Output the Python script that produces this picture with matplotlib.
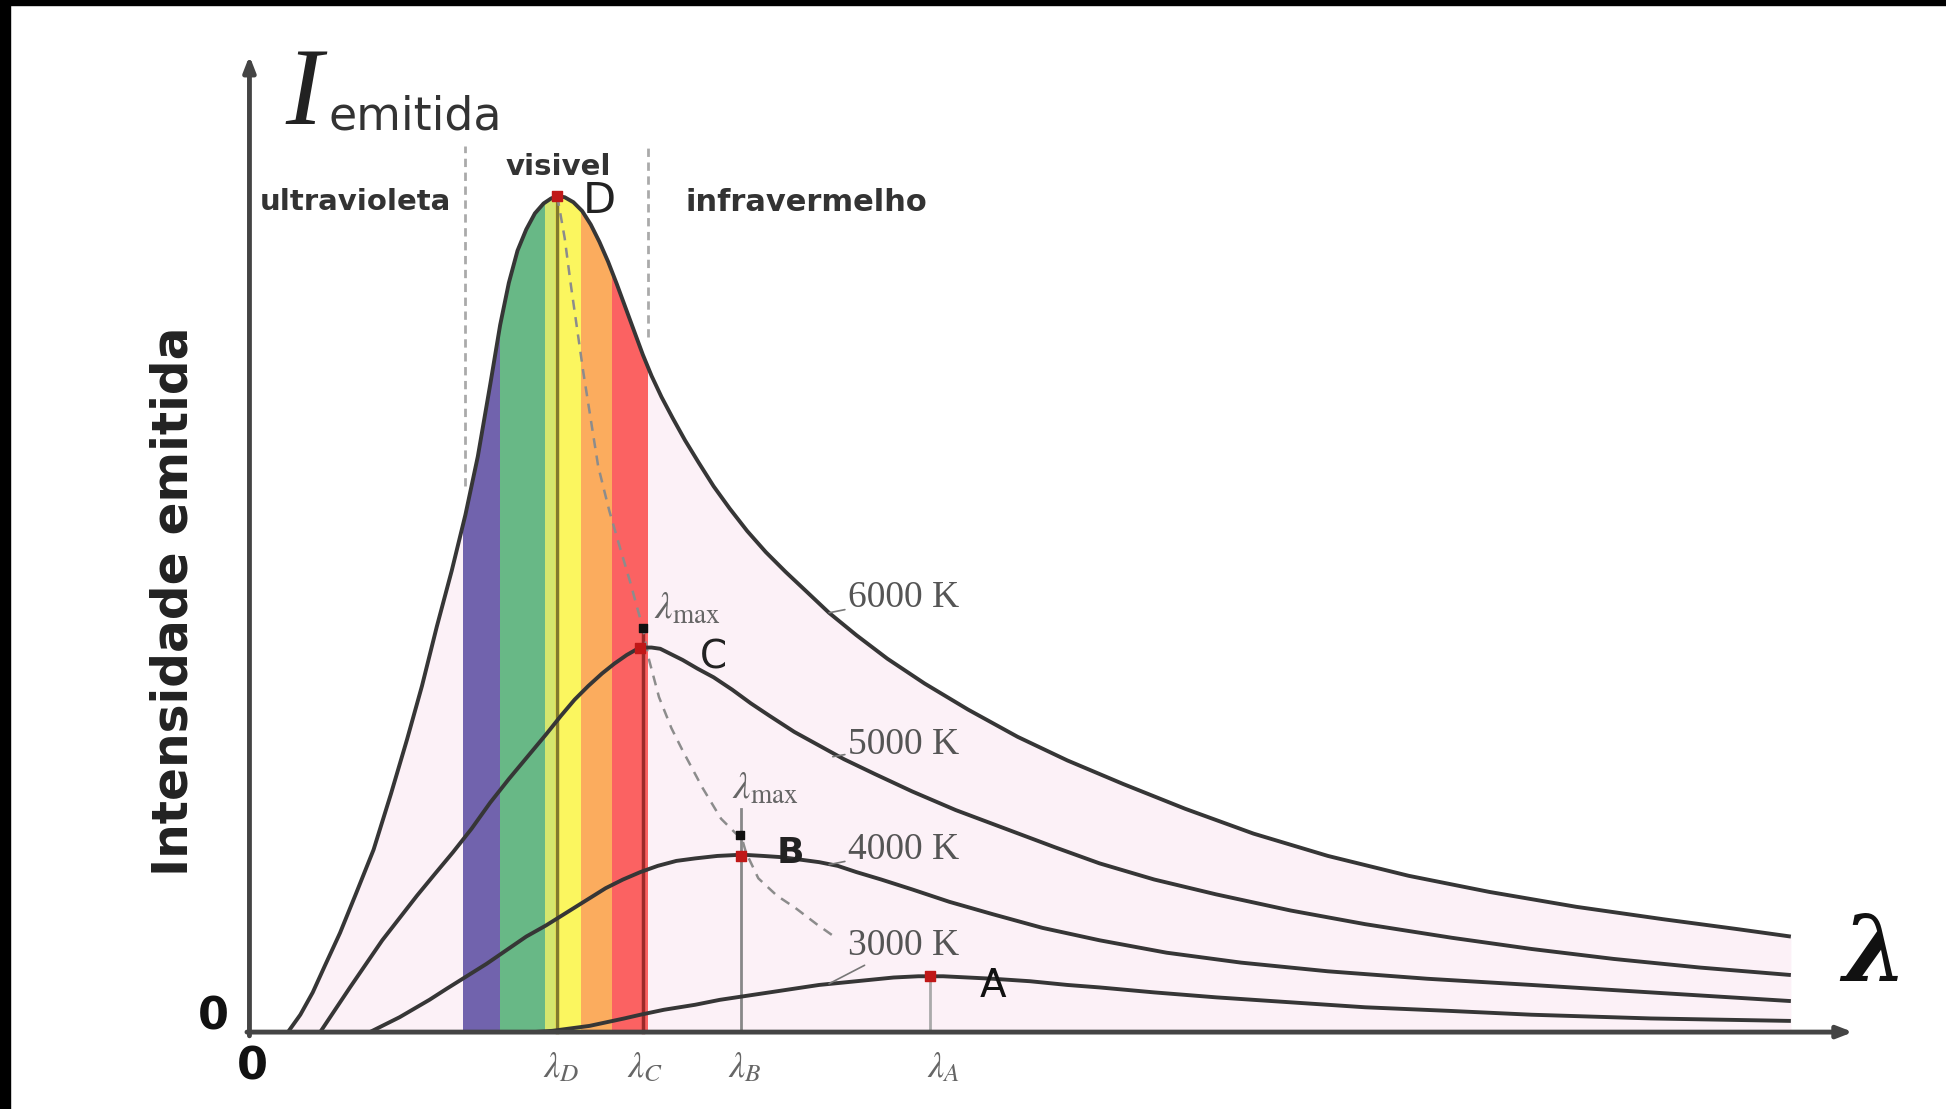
import matplotlib.pyplot as plt
from matplotlib.patches import Rectangle, Polygon
import numpy as np

# valores (unidades arbitrarias: x = comprimento de onda, y = intensidade)
x_6000 = [31, 41, 51, 61, 73, 86, 100, 114, 127, 139, 151, 163, 174, 184, 194, 202, 209, 216, 223, 230,
          237, 243, 248, 254, 261, 268, 275, 282, 289, 296, 303, 310, 317, 324, 332, 341, 351, 362, 374, 387,
          401, 416, 432, 449, 467, 489, 514, 544, 579, 619, 659, 704, 754, 809, 869, 934, 999, 1069, 1139,
          1199, 1242]
y_6000 = [0, 14, 32, 54, 80, 112, 147, 192, 236, 279, 327, 372, 417, 464, 522, 570, 604, 630, 647, 660,
          668, 672, 674, 673, 669, 662, 651, 637, 621, 603, 584, 565, 546, 529, 512, 495, 477, 459, 440, 422,
          404, 387, 371, 355, 338, 320, 301, 281, 260, 238, 219, 200, 180, 160, 142, 126, 113, 101, 91,
          83, 77]

x_5000 = [57, 69, 81, 94, 107, 121, 135, 149, 164, 179, 194, 209, 224, 239, 251, 262, 273, 284, 294, 304,
          311, 317, 324, 331, 339, 349, 361, 374, 389, 404, 419, 439, 459, 479, 504, 534, 569, 609, 649, 685,
          729, 779, 839, 899, 969, 1033, 1099, 1169, 1242]
y_5000 = [0, 18, 36, 55, 74, 92, 110, 127, 145, 164, 185, 204, 222, 240, 255, 268, 279, 289, 297, 304,
          308, 310, 310, 309, 305, 300, 293, 286, 276, 265, 255, 242, 231, 220, 208, 194, 179, 164, 149, 136,
          123, 111, 98, 87, 76, 67, 59, 52, 46]

x_4000 = [97, 109, 121, 133, 145, 159, 175, 191, 207, 223, 239, 255, 271, 287, 301, 315, 329, 344, 359, 377,
          397, 414, 429, 444, 459, 474, 489, 509, 534, 564, 599, 639, 685, 739, 799, 869, 949, 1033, 1129, 1242]
y_4000 = [0, 6, 12, 19, 26, 35, 45, 55, 66, 77, 86, 96, 106, 116, 123, 129, 134, 138, 140, 142,
          143, 142, 141, 139, 137, 134, 129, 123, 115, 105, 95, 84, 74, 64, 56, 49, 43, 38, 32, 25]

x_3000 = [229, 244, 259, 274, 288, 302, 315, 334, 359, 379, 399, 419, 439, 459, 479, 499, 519, 539, 559, 579,
          599, 629, 659, 685, 729, 779, 839, 899, 969, 1033, 1129, 1242]
y_3000 = [0, 1, 3, 5, 8, 11, 14, 18, 22, 26, 29, 32, 35, 38, 40, 42, 44, 45, 45, 44,
          43, 41, 38, 36, 32, 28, 24, 20, 17, 14, 11, 9]

# lei de Wien, passando pelos picos D, C, B, A
x_wien = [248, 254, 259, 264, 269, 275, 281, 290, 299, 307, 313, 317, 322, 330, 340, 349, 365, 380, 392, 396,
          400, 410, 425, 440, 457, 474]
y_wien = [674, 640, 602, 567, 532, 494, 456, 420, 389, 362, 340, 326, 300, 270, 245, 227, 197, 172, 160, 159,
          145, 124, 110, 100, 87, 75]
pico_x = [248, 315, 396, 548]
pico_y = [674, 310, 142, 45]

# faixas do espectro visivel
faixa_ini = [172, 202, 238, 246, 267, 292]
faixa_fim = [202, 238, 246, 267, 292, 321]
faixa_cor = ['#7163ad', '#68b886', '#d5e66e', '#fbf65f', '#fbac5e', '#fb6262']

curvas = [(x_6000, y_6000, '6000 K'), (x_5000, y_5000, '5000 K'),
          (x_4000, y_4000, '4000 K'), (x_3000, y_3000, '3000 K')]
rotulo_pos = [(482, 350), (482, 232), (482, 147), (482, 70)]
rotulo_ponto = [(467, 338), (470, 222), (467, 135), (467, 39)]

plt.rcParams['mathtext.fontset'] = 'stix'

fig = plt.figure(figsize=(19.46, 11.09), dpi=100)
ax = fig.add_axes([0, 0, 1, 1])
ax.set_xlim(-201, 1367)
ax.set_ylim(-62, 832)
ax.axis('off')

# fundo rosa sob a curva de 6000 K
ax.fill_between(x_6000, y_6000, 0, color='#fcf1f7', lw=0, zorder=1)
clip = Polygon(list(zip(x_6000, y_6000)) + [(x_6000[-1], 0), (x_6000[0], 0)], closed=True,
               transform=ax.transData)

for a, b, c in zip(faixa_ini, faixa_fim, faixa_cor):
    s = ax.axvspan(a, b, color=c, lw=0, zorder=2)
    s.set_clip_path(clip)

# linhas tracejadas das regioes
ax.plot([174, 174], [440, 714], ls=(0, (3, 2)), color='#aaaaaa', lw=2, zorder=2)
ax.plot([321, 321], [560, 714], ls=(0, (3, 2)), color='#aaaaaa', lw=2, zorder=2)

# linhas verticais dos lambda max
ax.plot([pico_x[0], pico_x[0]], [0, pico_y[0]], color='#827a2e', lw=2.5, zorder=3)
ax.plot([317, 317], [0, 326], color='#9b2a2a', lw=2.5, zorder=3)
ax.plot([pico_x[2], pico_x[2]], [0, 180], color='#888888', lw=2, zorder=3)
ax.plot([pico_x[3], pico_x[3]], [0, pico_y[3]], color='#aaaaaa', lw=2, zorder=3)

ax.plot(x_wien, y_wien, ls=(0, (4, 3)), color='#8c8c8c', lw=1.8, zorder=3)

for (xs, ys, nome), pos, pt in zip(curvas, rotulo_pos, rotulo_ponto):
    ax.plot(xs, ys, color='#363636', lw=2.8, zorder=4, solid_joinstyle='round', solid_capstyle='butt')
    ax.annotate(nome, xy=pt, xytext=pos, fontsize=27, family='Liberation Serif', color='#555555',
                va='center', ha='left', zorder=5,
                arrowprops=dict(arrowstyle='-', color='#777777', lw=1.2, shrinkA=0, shrinkB=0))

ax.scatter(pico_x, pico_y, marker='s', s=55, color='#c01818', zorder=6)
ax.scatter([317, 395], [326, 159], marker='s', s=40, color='#111111', zorder=6)

ax.text(282, 670, 'D', fontsize=31, color='#222222', ha='center', va='center', zorder=6)
ax.text(374, 302, 'C', fontsize=28, color='#222222', ha='center', va='center', zorder=6)
ax.text(436, 144, 'B', fontsize=26, color='#222222', ha='center', va='center', fontweight='bold', zorder=6)
ax.text(599, 37, 'A', fontsize=28, color='#111111', ha='center', va='center', zorder=6)

ax.text(326, 342, r'$\lambda_{\rm max}$', fontsize=28, color='#666666', ha='left', va='center')
ax.text(389, 197, r'$\lambda_{\rm max}$', fontsize=28, color='#666666', ha='left', va='center')

# eixos com setas
ax.annotate('', xy=(1292, 0), xytext=(-2, 0),
            arrowprops=dict(arrowstyle='-|>,head_length=0.9,head_width=0.35', color='#444444', lw=3.5,
                            shrinkA=0, shrinkB=0), zorder=7)
ax.annotate('', xy=(0, 787), xytext=(0, -3),
            arrowprops=dict(arrowstyle='-|>,head_length=0.9,head_width=0.35', color='#444444', lw=3.5,
                            shrinkA=0, shrinkB=0), zorder=7)

ax.text(44, 732, 'I', fontsize=80, family='Liberation Serif', style='italic', color='#222222',
        ha='center', va='baseline')
ax.text(64, 728, 'emitida', fontsize=33, color='#333333', ha='left', va='baseline')
ax.text(-61, 347, 'Intensidade emitida', fontsize=35, fontweight='bold', color='#222222',
        rotation=90, ha='center', va='center')
ax.text(85, 669, 'ultravioleta', fontsize=21, fontweight='bold', color='#333333', ha='center', va='center')
ax.text(249, 697, 'visivel', fontsize=21, fontweight='bold', color='#333333', ha='center', va='center')
ax.text(449, 669, 'infravermelho', fontsize=22, fontweight='bold', color='#333333', ha='center', va='center')

ax.text(-29, 12, '0', fontsize=32, fontweight='bold', color='#111111', ha='center', va='center')
ax.text(2, -28, '0', fontsize=32, fontweight='bold', color='#111111', ha='center', va='center')
ax.text(1309, 62, 'λ', fontsize=66, family='DejaVu Serif', fontweight='bold', style='italic',
        color='#111111', ha='center', va='center')

tick_x = [251, 319, 399, 559]
tick_txt = [r'$\lambda_D$', r'$\lambda_C$', r'$\lambda_B$', r'$\lambda_A$']
for tx, tt in zip(tick_x, tick_txt):
    ax.text(tx, -28, tt, fontsize=26, color='#666666', ha='center', va='center')

# moldura preta da imagem original
fig.patches.append(Rectangle((0, 1 - 5 / 1109), 1, 5 / 1109, transform=fig.transFigure, color='black'))
fig.patches.append(Rectangle((0, 0), 10 / 1946, 1, transform=fig.transFigure, color='black'))

fig.savefig('out.png', dpi=100)
